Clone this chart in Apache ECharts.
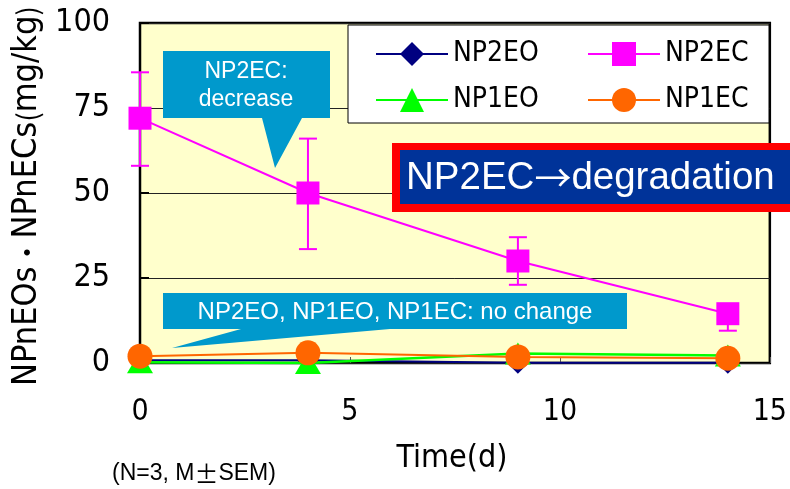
<!DOCTYPE html>
<html>
<head>
<meta charset="utf-8">
<script src="https://cdn.jsdelivr.net/npm/echarts@6/dist/echarts.min.js"></script>
<style>html,body{margin:0;padding:0;background:#fff}#c{width:790px;height:489px}</style>
</head>
<body>
<div id="c"></div>
<script>
// ---- data ----
const days = [0, 4, 9, 14];
const np2eo = [0.8, 0.8, 0.1, 0.1];
const np2ec = [72, 50, 30, 14.5];
const np2ecLow = [58, 33.5, 23, 9.5];
const np2ecHigh = [85.5, 66, 37, 14.5];
const np1eo = [0.2, 0, 2.8, 2.2];
const np1ec = [2, 3, 1.8, 1.4];
const yTicks = [0, 25, 50, 75, 100];
const xTicks = [0, 5, 10, 15];
const seriesNames = ['NP2EO', 'NP2EC', 'NP1EO', 'NP1EC'];

const NARROW = '"Liberation Sans Narrow", "DejaVu Sans Condensed", "Noto Sans CJK JP", sans-serif';
const ARIAL = '"Liberation Sans", Arial, "Noto Sans CJK JP", sans-serif';
const CJK = '"Noto Sans CJK JP", sans-serif';

const pts = arr => days.map((d, i) => [d, arr[i]]);
const errData = days.map((d, i) => [d, np2ecLow[i], np2ecHigh[i]]);

const chart = echarts.init(document.getElementById('c'), null, {renderer: 'canvas'});
const legendCommon = {orient: 'vertical', top: 40, padding: 0, itemGap: 18, itemWidth: 72, itemHeight: 30,
  textStyle: {fontFamily: NARROW, fontSize: 28, color: '#000'}, z: 5};
const option = {
  animation: false,
  grid: {left: 140, right: 19, top: 23, bottom: 126, show: true, backgroundColor: '#FFFFCC', borderColor: '#000', borderWidth: 2.5},
  xAxis: {
    type: 'value', min: xTicks[0], max: xTicks[xTicks.length - 1], interval: 5,
    axisLine: {show: false},
    axisTick: {show: true, inside: true, length: 6, lineStyle: {color: '#555'}},
    splitLine: {show: false},
    axisLabel: {margin: 34, fontFamily: NARROW, fontSize: 30, color: '#000'}
  },
  yAxis: {
    type: 'value', min: yTicks[0], max: yTicks[yTicks.length - 1], interval: 25,
    axisLine: {show: false},
    axisTick: {show: true, inside: true, length: 9, lineStyle: {color: '#000', width: 2}},
    splitLine: {show: true, lineStyle: {color: '#222', width: 1}},
    axisLabel: {margin: 30, fontFamily: NARROW, fontSize: 32, color: '#000'}
  },
  legend: [
    Object.assign({data: ['NP2EO', 'NP1EO'], left: 375}, legendCommon),
    Object.assign({data: ['NP2EC', 'NP1EC'], left: 587}, legendCommon)
  ],
  series: [
    {name: seriesNames[0], type: 'line', data: pts(np2eo), symbol: 'diamond', symbolSize: 22, clip: false,
     lineStyle: {color: '#000080', width: 2}, itemStyle: {color: '#000080'}, z: 3},
    {name: seriesNames[1], type: 'line', data: pts(np2ec), symbol: 'rect', symbolSize: 23, clip: false,
     lineStyle: {color: '#FF00FF', width: 2}, itemStyle: {color: '#FF00FF'}, z: 4},
    {name: 'err', type: 'custom', data: errData, clip: false, z: 3,
     renderItem: function (params, api) {
       const x = api.value(0);
       const lo = api.coord([x, api.value(1)]);
       const hi = api.coord([x, api.value(2)]);
       const hw = 9;
       const st = {stroke: '#FF00FF', lineWidth: 2};
       return {type: 'group', children: [
         {type: 'line', shape: {x1: lo[0], y1: lo[1], x2: hi[0], y2: hi[1]}, style: st},
         {type: 'line', shape: {x1: lo[0] - hw, y1: lo[1], x2: lo[0] + hw, y2: lo[1]}, style: st},
         {type: 'line', shape: {x1: hi[0] - hw, y1: hi[1], x2: hi[0] + hw, y2: hi[1]}, style: st}
       ]};
     }},
    {name: seriesNames[2], type: 'line', data: pts(np1eo), symbol: 'triangle', symbolSize: [26, 22], clip: false,
     lineStyle: {color: '#00FF00', width: 2.5}, itemStyle: {color: '#00FF00'}, z: 5},
    {name: seriesNames[3], type: 'line', data: pts(np1ec), symbol: 'circle', symbolSize: 25, clip: false,
     lineStyle: {color: '#FF6600', width: 2}, itemStyle: {color: '#FF6600'}, z: 6}
  ],
  graphic: [
    // legend box
    {type: 'rect', z: 1, shape: {x: 348, y: 25, width: 421, height: 98}, style: {fill: '#fff', stroke: '#000', lineWidth: 1}},
    // callout 1
    {type: 'polygon', z: 20, shape: {points: [[163, 51], [330, 51], [330, 118], [302, 118], [275, 168], [262, 118], [163, 118]]}, style: {fill: '#0099CC'}},
    {type: 'text', z: 21, style: {x: 246, y: 86, text: 'NP2EC:\ndecrease', fill: '#fff', font: '23px ' + ARIAL, align: 'center', verticalAlign: 'middle', lineHeight: 28}},
    // callout 2
    {type: 'polygon', z: 20, shape: {points: [[163, 293], [627, 293], [627, 329], [390, 329], [172, 348], [241, 329], [163, 329]]}, style: {fill: '#0099CC'}},
    {type: 'text', z: 21, style: {x: 395, y: 312, text: 'NP2EO, NP1EO, NP1EC: no change', fill: '#fff', font: '24px ' + ARIAL, align: 'center', verticalAlign: 'middle'}},
    // callout 3
    {type: 'rect', z: 20, shape: {x: 392, y: 143, width: 410, height: 69}, style: {fill: '#FF0000'}},
    {type: 'rect', z: 21, shape: {x: 400, y: 150, width: 400, height: 54}, style: {fill: '#003399'}},
    {type: 'text', z: 22, style: {x: 406, y: 178, text: '{a|NP2EC}{b|→}{a|degradation}', align: 'left', verticalAlign: 'middle',
      rich: {a: {fill: '#fff', fontFamily: ARIAL, fontSize: 38.5}, b: {fill: '#fff', fontFamily: CJK, fontSize: 37}}}},
    // axis titles
    {type: 'text', z: 5, rotation: Math.PI / 2, x: 27, y: 196, style: {x: 0, y: 0, text: '{a|NPnEOs}{b|・}{a|NPnECs}{b|(}{a|mg/kg}{b|)}', align: 'center', verticalAlign: 'middle',
      rich: {a: {fill: '#000', fontFamily: NARROW, fontSize: 34}, b: {fill: '#000', fontFamily: CJK, fontSize: 28}}}},
    {type: 'text', z: 5, style: {x: 452, y: 459, text: 'Time(d)', fill: '#000', font: '32px ' + NARROW, align: 'center', verticalAlign: 'middle'}},
    {type: 'text', z: 5, style: {x: 112, y: 474, text: '{a|(N=3, M}{b|±}{a|SEM)}', align: 'left', verticalAlign: 'middle',
      rich: {a: {fill: '#000', fontFamily: ARIAL, fontSize: 23}, b: {fill: '#000', fontFamily: CJK, fontSize: 24}}}}
  ]
};
chart.setOption(option);
</script>
</body>
</html>
